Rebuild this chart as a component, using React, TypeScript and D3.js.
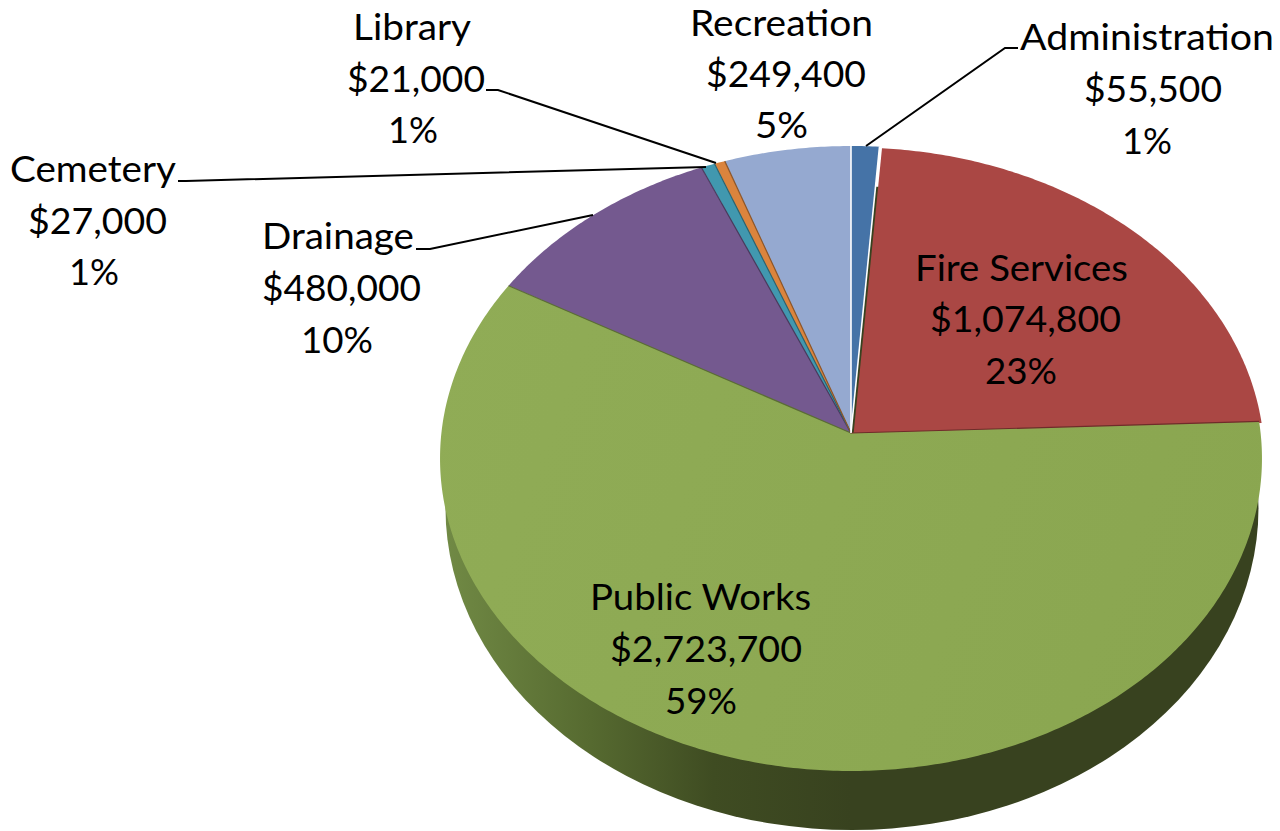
import React from "react";
import * as d3 from "d3";

const categories = ["Administration", "Fire Services", "Public Works", "Drainage", "Cemetery", "Library", "Recreation"];
const amounts = [55500, 1074800, 2723700, 480000, 27000, 21000, 249400];
const amountLabels = ["$55,500", "$1,074,800", "$2,723,700", "$480,000", "$27,000", "$21,000", "$249,400"];
const percentLabels = ["1%", "23%", "59%", "10%", "1%", "1%", "5%"];
const colors = ["#4573a7", "#aa4744", "url(#greenTop)", "#74598f", "#4198af", "#db843d", "#95a9d0"];
const edgeColors = ["#ffffff", "#6f2b2a", "#5c6e36", "#4b3a5e", "#2a6472", "#8f5628", "#ffffff"];

// layout: [left, right, baseline] of each of the three lines
const labelBoxes: number[][][] = [
  [[1020, 1274, 50], [1084, 1222, 102], [1122, 1172, 154]],
  [[915, 1128, 281], [930, 1121, 332], [985, 1057, 384]],
  [[590, 811, 610], [610, 802, 662], [665, 737, 714]],
  [[262, 414, 249], [262, 421, 301], [301, 373, 353]],
  [[10, 176, 182], [28, 167, 234], [69, 119, 285]],
  [[353, 471, 40], [347, 485, 92], [388, 438, 143]],
  [[690, 873, 36], [706, 866, 87], [755, 808, 138]],
];

const leaders: [number, number][][] = [
  [[866, 146], [1005, 48], [1018, 48]],
  [[593, 215], [430, 249], [416, 249]],
  [[706, 167], [186, 181], [178, 181]],
  [[716, 163], [498, 90], [486, 90]],
];

const apexX = 851;
const apexY = 433;
const persp = -0.0816;
const kx = 409.6;
const ky = 310.4;

const project = (angle: number): [number, number] => {
  const u = Math.sin(angle);
  const v = -Math.cos(angle);
  const w = 1 + persp * v;
  return [apexX + (kx * u) / w, apexY + (ky * v) / w];
};

const slicePath = (a0: number, a1: number) => {
  const n = Math.max(2, Math.ceil((a1 - a0) / 0.01));
  const angles = d3.range(n + 1).map((i) => a0 + ((a1 - a0) * i) / n);
  const pts: [number, number][] = [[apexX, apexY], ...angles.map(project)];
  return d3.line().curve(d3.curveLinearClosed)(pts) as string;
};

export default function App() {
  const pie = d3.pie<number>().sort(null).startAngle(0).endAngle(2 * Math.PI);
  const arcs = pie(amounts);
  const line = d3.line();
  return (
    <svg
      width={1280}
      height={831}
      viewBox="0 0 1280 831"
      style={{ position: "fixed", left: 0, top: 0, background: "#fff" }}
      fontFamily="Lato, 'Open Sans', sans-serif"
    >
      <defs>
        <linearGradient id="wall" gradientUnits="userSpaceOnUse" x1={444} x2={1258} y1={0} y2={0}>
          <stop offset="0" stopColor="#718a45" />
          <stop offset="0.18" stopColor="#566a30" />
          <stop offset="0.33" stopColor="#3f4c22" />
          <stop offset="0.5" stopColor="#38421f" />
          <stop offset="1" stopColor="#38421f" />
        </linearGradient>
        <linearGradient id="greenTop" gradientUnits="userSpaceOnUse" x1={440} x2={1262} y1={300} y2={600}>
          <stop offset="0" stopColor="#90ac56" />
          <stop offset="1" stopColor="#8aa650" />
        </linearGradient>
      </defs>
      <ellipse cx={852} cy={508} rx={406.5} ry={322} fill="url(#wall)" />
      {arcs.map((a, i) => (
        <path
          key={categories[i]}
          d={slicePath(a.startAngle, a.endAngle)}
          fill={colors[i]}
          transform={i === 1 ? "translate(2.5,1.5)" : undefined}
        />
      ))}
      {arcs.map((a, i) => (
        <path
          key={categories[i] + "-edge"}
          d={line([[apexX, apexY], project(a.endAngle)]) as string}
          stroke={edgeColors[i]}
          strokeWidth={i === 0 || i === 6 ? 1.6 : 1.2}
          fill="none"
        />
      ))}
      {leaders.map((pts, i) => (
        <path key={i} d={line(pts) as string} fill="none" stroke="#000" strokeWidth={2} />
      ))}
      {categories.map((c, i) =>
        [c, amountLabels[i], percentLabels[i]].map((t, j) => {
          const [l, r, b] = labelBoxes[i][j];
          return (
            <text
              key={c + j}
              x={l}
              y={b}
              fontSize={37}
              fill="#000"
              textLength={r - l}
              lengthAdjust="spacingAndGlyphs"
            >
              {t}
            </text>
          );
        })
      )}
    </svg>
  );
}
